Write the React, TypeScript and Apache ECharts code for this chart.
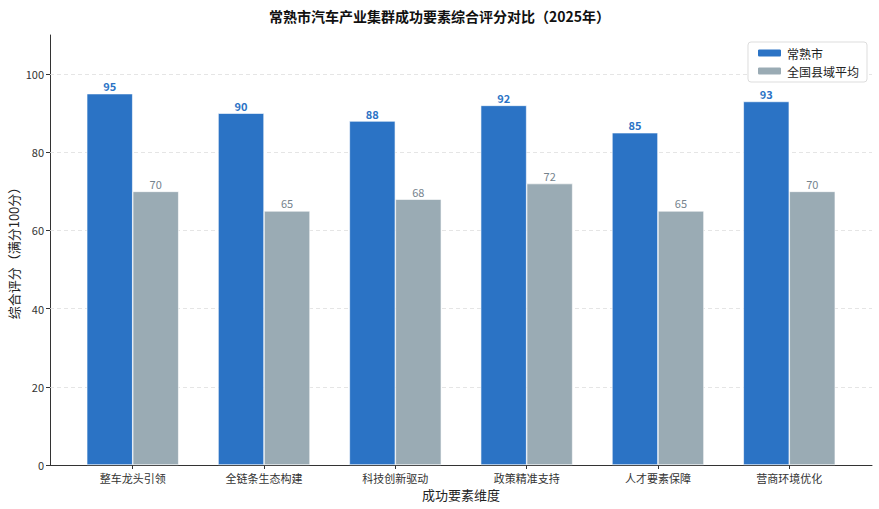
import React, { useEffect, useRef } from "react";
import * as echarts from "echarts";

const categories = ["整车龙头引领", "全链条生态构建", "科技创新驱动", "政策精准支持", "人才要素保障", "营商环境优化"];
const changshuValues = [95, 90, 88, 92, 85, 93];
const nationalValues = [70, 65, 68, 72, 65, 70];
const yTicks = [0, 20, 40, 60, 80, 100];
const seriesNames = ["常熟市", "全国县域平均"];

const FONT = "'Noto Sans CJK SC', 'Noto Sans', sans-serif";
const BLUE = "#2b73c5";
const GREY = "#9aabb4";

export default function App() {
  const ref = useRef<HTMLDivElement>(null);
  useEffect(() => {
    if (!ref.current) return;
    const chart = echarts.init(ref.current, undefined, { renderer: "svg" });
    const catIdx = categories.map((_, i) => i);
    chart.setOption({
      animation: false,
      backgroundColor: "#ffffff",
      textStyle: { fontFamily: FONT },
      title: {
        text: "常熟市汽车产业集群成功要素综合评分对比（2025年）",
        left: "center",
        top: 4,
        textStyle: { fontFamily: FONT, fontSize: 14, fontWeight: "bold", color: "#111" },
      },
      legend: {
        data: seriesNames,
        right: 12,
        top: 42,
        orient: "vertical",
        itemWidth: 25,
        itemHeight: 9,
        itemGap: 6,
        padding: [5, 8, 5, 8],
        borderColor: "#dddddd",
        borderWidth: 1,
        borderRadius: 3,
        backgroundColor: "#ffffff",
        textStyle: { fontFamily: FONT, fontSize: 12, color: "#222" },
      },
      grid: { left: 50, right: 7, top: 35, bottom: 44, containLabel: false, outerBoundsMode: "none" },
      xAxis: {
        type: "value",
        min: -0.63,
        max: 5.63,
        name: "成功要素维度",
        nameLocation: "middle",
        nameGap: 23,
        nameTextStyle: { fontFamily: FONT, fontSize: 13, color: "#222" },
        axisLine: { show: true, onZero: false, lineStyle: { color: "#333", width: 1 } },
        axisTick: { show: true, length: 4, customValues: catIdx, lineStyle: { color: "#333" } },
        axisLabel: {
          customValues: catIdx,
          formatter: (v: number) => categories[Math.round(v)] ?? "",
          fontFamily: FONT,
          fontSize: 11,
          color: "#333",
          margin: 7,
        },
        splitLine: { show: false },
      },
      yAxis: {
        type: "value",
        min: 0,
        max: 110,
        interval: 20,
        name: "综合评分（满分100分）",
        nameLocation: "middle",
        nameGap: 30,
        nameMoveOverlap: false,
        nameTextStyle: { fontFamily: FONT, fontSize: 13, color: "#222" },
        axisLine: { show: true, onZero: false, lineStyle: { color: "#333", width: 1 } },
        axisTick: { show: true, length: 4, customValues: yTicks, lineStyle: { color: "#333" } },
        axisLabel: { customValues: yTicks, fontFamily: FONT, fontSize: 11, color: "#333", margin: 6 },
        splitLine: { show: false },
      },
      series: [
        {
          name: seriesNames[0],
          type: "bar",
          z: 3,
          barWidth: 46,
          barGap: "0%",
          data: changshuValues.map((v, i) => [i, v]),
          itemStyle: { color: BLUE, borderColor: "#ffffff", borderWidth: 0.6 },
          label: {
            show: true,
            position: "top",
            distance: 2,
            formatter: (p: any) => String(p.value[1]),
            fontFamily: FONT,
            fontSize: 11,
            fontWeight: "bold",
            color: BLUE,
          },
          markLine: {
            silent: true,
            symbol: "none",
            z: 1,
            label: { show: false },
            lineStyle: { type: [4, 3], color: "#dedede", width: 0.8 },
            data: yTicks.filter((v) => v > 0).map((v) => ({ yAxis: v })),
          },
        },
        {
          name: seriesNames[1],
          type: "bar",
          z: 3,
          barWidth: 46,
          barGap: "0%",
          data: nationalValues.map((v, i) => [i, v]),
          itemStyle: { color: GREY, borderColor: "#ffffff", borderWidth: 0.6 },
          label: {
            show: true,
            position: "top",
            distance: 2,
            formatter: (p: any) => String(p.value[1]),
            fontFamily: FONT,
            fontSize: 11,
            color: "#75838d",
          },
        },
      ],
    });
    return () => chart.dispose();
  }, []);
  return <div ref={ref} style={{ position: "fixed", left: 0, top: 0, width: 879, height: 509 }} />;
}
